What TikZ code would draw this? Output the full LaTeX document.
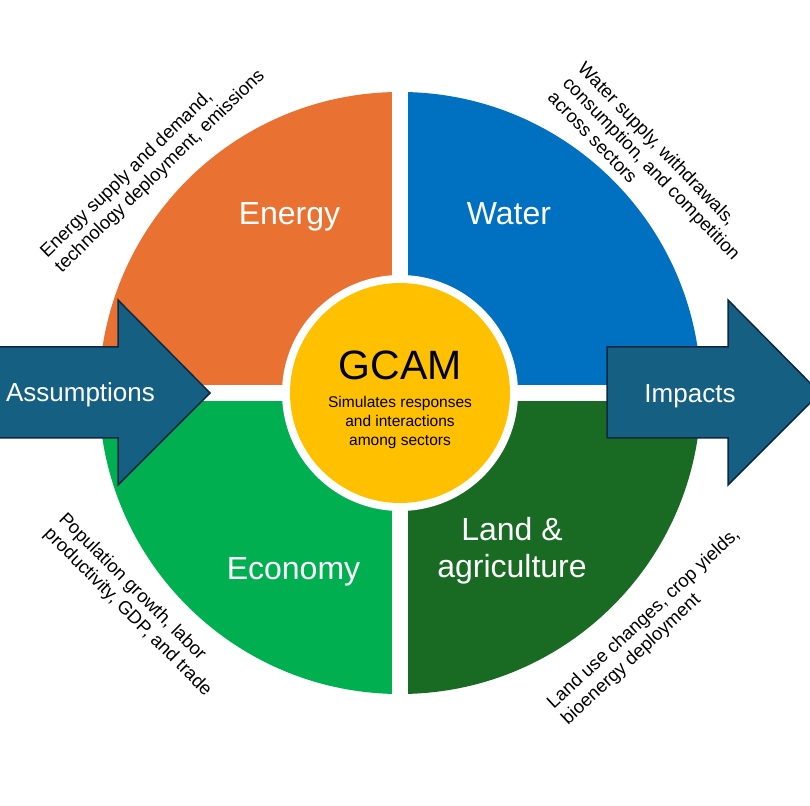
\documentclass[tikz,border=0pt]{standalone}
\usepackage{fontspec}
\setmainfont{Liberation Sans}
\usetikzlibrary{positioning}
\definecolor{energyc}{HTML}{E97132}
\definecolor{waterc}{HTML}{0070C0}
\definecolor{econc}{HTML}{00B050}
\definecolor{landc}{HTML}{196B24}
\definecolor{hubc}{HTML}{FFC000}
\definecolor{arrowc}{HTML}{156082}
\definecolor{arrowline}{HTML}{0E2841}

\begin{document}
\begin{tikzpicture}[x=1pt, y=1pt,
        sector/.style={text=white, font=\fontsize{32}{37}\selectfont, align=center},
        desc/.style={font=\fontsize{18.5}{21}\selectfont, align=left, inner sep=0pt},
        gap/.style={draw=white, line width=16pt},
        bigarrow/.style={fill=arrowc, draw=arrowline, line width=1.5pt},
        arrowlbl/.style={text=white, font=\fontsize{26}{30}\selectfont}
    ]
    \useasboundingbox (0,0) rectangle (810,805);
    \coordinate (c) at (400,412);

    \fill[waterc] (c) -- ++(0:301) arc[start angle=0, end angle=90, radius=301] -- cycle;
    \fill[energyc] (c) -- ++(90:301) arc[start angle=90, end angle=180, radius=301] -- cycle;
    \fill[econc] (c) -- ++(180:301) arc[start angle=180, end angle=270, radius=301] -- cycle;
    \fill[landc] (c) -- ++(270:301) arc[start angle=270, end angle=360, radius=301] -- cycle;
    \draw[gap] (90,412) -- (710,412);
    \draw[gap] (400,100) -- (400,724);
    \fill[white] (c) circle[radius=118];
    \node[circle, fill=hubc, minimum size=220pt, inner sep=0pt] (hub) at (c) {};

    \node[anchor=base, font=\fontsize{41}{45}\selectfont] (gcam) at (400,425) {GCAM};
    \node[anchor=north, align=center, inner sep=0pt, font=\fontsize{15.5}{19}\selectfont] (gcamnote) at (400,409) {Simulates responses\\and interactions\\among sectors};

    \node[sector, anchor=base] (energy) at (289.5,580) {Energy};
    \node[sector, anchor=base] (water) at (509,580) {Water};
    \node[sector, anchor=base] (economy) at (293.5,225) {Economy};
    \node[sector, anchor=north, inner sep=0pt] (land) at (512,288) {Land \&\\agriculture};

    \node[desc, rotate=44] (energydesc) at (153,641) {Energy supply and demand,\\technology deployment, emissions};
    \node[desc, rotate=-46] (waterdesc) at (652,637) {Water supply, withdrawals,\\consumption, and competition\\across sectors};
    \node[desc, rotate=-45] (econdesc) at (135,200) {Population growth, labor\\productivity, GDP, and trade};
    \node[desc, rotate=43] (landdesc) at (651,178) {Land use changes, crop yields,\\bioenergy deployment};

    \filldraw[bigarrow] (-10,367) -- (118,367) -- (118,320) -- (210,412) -- (118,505) -- (118,458) -- (-10,458) -- cycle;
    \filldraw[bigarrow] (607,367) -- (728,367) -- (728,320) -- (820,412) -- (728,505) -- (728,458) -- (607,458) -- cycle;
    \node[arrowlbl, anchor=base] (assump) at (80.5,403) {Assumptions};
    \node[arrowlbl, anchor=base] (impacts) at (690,402) {Impacts};
\end{tikzpicture}
\end{document}
